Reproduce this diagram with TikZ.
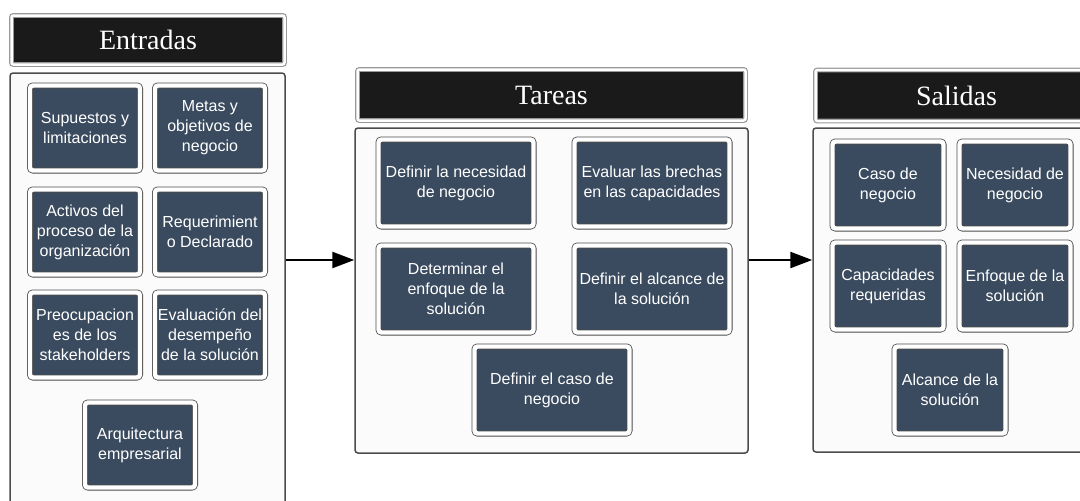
\documentclass[tikz,border=0pt]{standalone}
\usepackage{fontspec}
\setmainfont{Liberation Serif}
\newfontfamily\cajafont{Liberation Sans}
\usetikzlibrary{positioning,arrows.meta}
\definecolor{azulcaja}{HTML}{3A4B5F}
\definecolor{negrotitulo}{HTML}{1A1A1A}
\definecolor{fondopanel}{HTML}{FBFBFB}

\begin{document}
\begin{tikzpicture}[x=1pt,y=1pt,>={Triangle[length=22pt,width=16pt]},node distance=100pt,on grid]
	\tikzstyle{panel}=[rectangle,draw=black!70,line width=1.5pt,fill=fondopanel,rounded corners=3pt]
	\tikzstyle{titulo}=[rectangle,draw=gray!80,double=white,double distance=2.5pt,line width=1.2pt,fill=negrotitulo,text=white,rounded corners=2pt,font=\fontsize{28}{32}\selectfont]
	\tikzstyle{caja}=[rectangle,draw=gray!60!black,double=white,double distance=4.4pt,line width=0.8pt,fill=azulcaja,text=white,align=center,rounded corners=3pt,inner sep=0pt,font=\cajafont\fontsize{16}{20}\selectfont]
	\tikzstyle{chica}=[caja,minimum width=110pt,minimum height=85pt]
	\tikzstyle{ancha}=[caja,minimum width=155pt,minimum height=87pt]
	\tikzstyle{media}=[caja,minimum width=111pt,minimum height=87pt]

	\useasboundingbox (0,0) rectangle (1080,-501);

	% paneles
	\node[panel,minimum width=275pt,minimum height=460pt] (ENTRADAS) at (147.5,-303) {};
	\node[panel,minimum width=393pt,minimum height=325pt] (TAREAS) at (551.5,-290.5) {};
	\node[panel,minimum width=287pt,minimum height=324pt] (SALIDAS) at (956.5,-290) {};

	\node[titulo,minimum width=273pt,minimum height=49pt] (T_ENTRADAS) at (148,-40) {Entradas};
	\node[titulo,minimum width=388pt,minimum height=51pt] (T_TAREAS) at (551.5,-95) {Tareas};
	\node[titulo,minimum width=282pt,minimum height=51pt] (T_SALIDAS) at (956.5,-95.5) {Salidas};

	% entradas
	\node[chica] (SUPUESTOS) at (85,-128) {Supuestos y\\limitaciones};
	\node[chica] (METAS) [right=125pt of SUPUESTOS] {Metas y\\objetivos de\\negocio};
	\node[chica] (ACTIVOS) [below=104pt of SUPUESTOS] {Activos del\\proceso de la\\organización};
	\node[chica] (REQUERIMIENTO) [right=125pt of ACTIVOS] {Requerimient\\o Declarado};
	\node[chica] (PREOCUPACIONES) [below=103pt of ACTIVOS] {Preocupacion\\es de los\\stakeholders};
	\node[chica] (EVALUACION) [right=125pt of PREOCUPACIONES] {Evaluación del\\desempeño\\de la solución};
	\node[chica] (ARQUITECTURA) [below right=110pt and 55pt of PREOCUPACIONES] {Arquitectura\\empresarial};

	% tareas
	\node[ancha] (DEF_NECESIDAD) at (456,-183) {Definir la necesidad\\de negocio};
	\node[ancha] (EVAL_BRECHAS) [right=196pt of DEF_NECESIDAD] {Evaluar las brechas\\en las capacidades};
	\node[ancha] (DET_ENFOQUE) [below=106pt of DEF_NECESIDAD] {Determinar el\\enfoque de la\\solución};
	\node[ancha] (DEF_ALCANCE) [right=196pt of DET_ENFOQUE] {Definir el alcance de\\la solución};
	\node[ancha] (DEF_CASO) [below right=101pt and 96pt of DET_ENFOQUE] {Definir el caso de\\negocio};

	% salidas
	\node[media] (CASO) at (888,-185) {Caso de\\negocio};
	\node[media] (NECESIDAD) [right=127pt of CASO] {Necesidad de\\negocio};
	\node[media] (CAPACIDADES) [below=101pt of CASO] {Capacidades\\requeridas};
	\node[media] (ENFOQUE) [right=127pt of CAPACIDADES] {Enfoque de la\\solución};
	\node[media] (ALCANCE) [below right=104pt and 62pt of CAPACIDADES] {Alcance de la\\solución};

	\path[->,line width=2.5pt]	([yshift=30.5pt]TAREAS.west -| ENTRADAS.east) edge ([yshift=30.5pt]TAREAS.west)
				([yshift=30.5pt]TAREAS.east) edge ([yshift=30.5pt]TAREAS.east -| SALIDAS.west);

\end{tikzpicture}
\end{document}
